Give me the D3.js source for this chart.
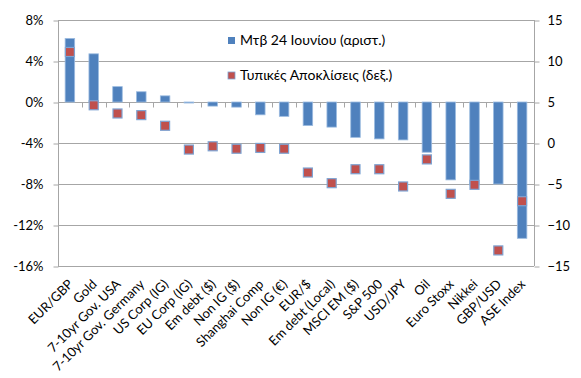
<!DOCTYPE html>
<html>
<head>
<meta charset="utf-8">
<script src="https://cdn.jsdelivr.net/npm/d3@7"></script>
<style>
  body { margin: 0; background: #ffffff; }
  svg { display: block; font-family: Lato, "Open Sans", sans-serif; }
</style>
</head>
<body>
<svg id="chart" width="581" height="378"></svg>
<script>
// data
const categories = ["EUR/GBP", "Gold", "7-10yr Gov. USA", "7-10yr Gov. Germany", "US Corp (IG)",
  "EU Corp (IG)", "Em debt ($)", "Non IG ($)", "Shanghai Comp", "Non IG (€)", "EUR/$",
  "Em debt (Local)", "MSCI EM ($)", "S&P 500", "USD/JPY", "Oil", "Euro Stoxx", "Nikkei",
  "GBP/USD", "ASE Index"];
const june24 = [6.2, 4.7, 1.5, 1.0, 0.6, -0.1, -0.4, -0.5, -1.25, -1.4, -2.3, -2.45, -3.45,
  -3.6, -3.7, -4.9, -7.6, -8.1, -8.0, -13.3];
const stdDev = [11.1, 4.6, 3.6, 3.4, 2.1, -0.8, -0.4, -0.7, -0.6, -0.7, -3.6, -4.9, -3.2,
  -3.2, -5.3, -2.0, -6.2, -5.1, -13.1, -7.1];
const leftTicks = [-16, -12, -8, -4, 0, 4, 8];
const rightTicks = [-15, -10, -5, 0, 5, 10, 15];
const legendLabels = ["Μτβ 24 Ιουνίου (αριστ.)", "Τυπικές Αποκλίσεις (δεξ.)"];

const svg = d3.select("#chart"),
    width = +svg.attr("width"),
    height = +svg.attr("height"),
    margin = { top: 20, right: 47, bottom: 112, left: 58 },
    chartWidth = width - margin.left - margin.right,
    chartHeight = height - margin.top - margin.bottom;

const g = svg.append("g")
    .attr("transform", `translate(${margin.left},${margin.top})`);

const x = d3.scaleBand().domain(categories).range([0, chartWidth]).padding(0);
const yL = d3.scaleLinear().domain([-16, 8]).range([chartHeight, 0]);
const yR = d3.scaleLinear().domain([-15, 15]).range([chartHeight, 0]);

const gridColor = "#a6a6a6";

// gridlines
g.append("g")
    .selectAll("line")
    .data(leftTicks)
    .join("line")
    .attr("x1", 0)
    .attr("x2", chartWidth)
    .attr("y1", d => Math.round(yL(d)) + 0.5)
    .attr("y2", d => Math.round(yL(d)) + 0.5)
    .attr("stroke", gridColor);

// left axis
const axL = g.append("g")
    .attr("transform", "translate(0.5,0)")
    .call(d3.axisLeft(yL).tickValues(leftTicks).tickSize(5).tickPadding(10).tickFormat(d => d + "%"));
// right axis
const axR = g.append("g")
    .attr("transform", `translate(${chartWidth + 0.5},0)`)
    .call(d3.axisRight(yR).tickValues(rightTicks).tickSize(5).tickPadding(8).tickFormat(d3.format("d")));

[axL, axR].forEach(a => {
    a.select(".domain").attr("stroke", gridColor).attr("d", `M0,0V${chartHeight}`);
    a.selectAll(".tick line").attr("stroke", gridColor);
    a.selectAll(".tick text")
        .attr("fill", "#000")
        .style("font-size", "13px")
        .style("font-family", "Lato, sans-serif");
});
axL.selectAll(".tick line").attr("transform", d => `translate(0,${Math.round(yL(d)) + 0.5 - yL(d)})`);
axR.selectAll(".tick line").attr("transform", d => `translate(0,${Math.round(yR(d)) + 0.5 - yR(d)})`);

// category tick marks on zero line
const y0 = Math.round(yL(0)) + 0.5;
g.append("g")
    .selectAll("line")
    .data(d3.range(categories.length + 1))
    .join("line")
    .attr("x1", i => Math.round(i * x.step()) + 0.5)
    .attr("x2", i => Math.round(i * x.step()) + 0.5)
    .attr("y1", y0)
    .attr("y2", y0 + 5)
    .attr("stroke", gridColor);

// bars
const barW = x.bandwidth() * 0.4;
g.append("g")
    .selectAll("rect")
    .data(categories.map((c, i) => ({ c, v: june24[i] })))
    .join("rect")
    .attr("x", d => x(d.c) + x.bandwidth() / 2 - barW / 2)
    .attr("y", d => yL(Math.max(0, d.v)))
    .attr("width", barW)
    .attr("height", d => Math.abs(yL(d.v) - yL(0)))
    .attr("fill", "#4f81bd")
    .attr("stroke", "#9bbbe0")
    .attr("stroke-width", 0.8);

// markers
const mSize = 9;
g.append("g")
    .selectAll("rect")
    .data(categories.map((c, i) => ({ c, v: stdDev[i] })))
    .join("rect")
    .attr("x", d => x(d.c) + x.bandwidth() / 2 - mSize / 2)
    .attr("y", d => yR(d.v) - mSize / 2)
    .attr("width", mSize)
    .attr("height", mSize)
    .attr("fill", "#c0504d")
    .attr("stroke", "#7ea3d2")
    .attr("stroke-width", 1.2);

// category labels
g.append("g")
    .selectAll("text")
    .data(categories)
    .join("text")
    .attr("transform", d => `translate(${x(d) + x.bandwidth() / 2 + 4},${chartHeight + 19}) rotate(-45)`)
    .attr("text-anchor", "end")
    .style("font-size", "13px")
    .attr("fill", "#000")
    .text(d => d);

// legend
const legend = svg.append("g").attr("transform", "translate(228,0)");
const legendColors = ["#4f81bd", "#c0504d"];
legendLabels.forEach((label, i) => {
    const row = legend.append("g").attr("transform", `translate(0,${i === 0 ? 45 : 80})`);
    row.append("rect")
        .attr("x", 0)
        .attr("y", -8)
        .attr("width", 7)
        .attr("height", 7)
        .attr("fill", legendColors[i])
        .attr("stroke", i === 1 ? "#7ea3d2" : "none")
        .attr("stroke-width", 0.8);
    row.append("text")
        .attr("x", 12)
        .attr("y", 0)
        .style("font-size", "14px")
        .attr("fill", "#000")
        .text(label);
});
</script>
</body>
</html>
